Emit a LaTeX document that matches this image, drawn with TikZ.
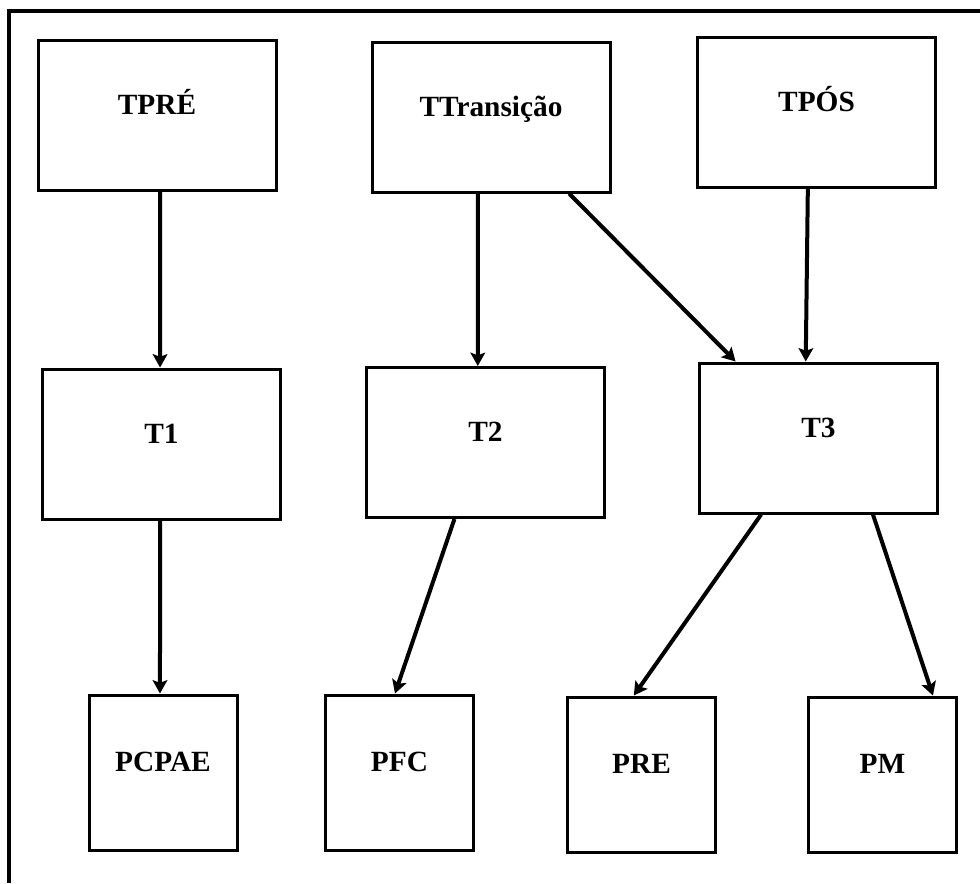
\documentclass[tikz,border=0pt]{standalone}
\usepackage{fontspec}
\setmainfont{Liberation Serif}
\usetikzlibrary{calc,arrows.meta}
\newcommand{\seta}[4]{\draw[arr] ($(#1.south west)!#2!(#1.south east)$) -- ($(#3.north west)!#4!(#3.north east)$);}

\begin{document}
\begin{tikzpicture}[x=0.75pt,y=-0.75pt,
  caixa/.style={draw,line width=2.25pt,text height=14.5pt,text depth=15.5pt,
    font=\fontsize{22}{25}\selectfont\bfseries},
  grande/.style={caixa,minimum width=178.5pt,minimum height=112.5pt},
  pequena/.style={caixa,minimum width=111pt,minimum height=116.25pt},
  arr/.style={line width=3pt,-{Stealth[length=10pt,width=11pt,inset=2pt]}}]
  \useasboundingbox (0,0) rectangle (980,883);
  \draw[line width=3.5pt] (9,883) -- (9,11) -- (980,11);

  % linha de cima
  \node[grande] (tpre) at (157,115.5) {TPRÉ};
  \node[grande] (ttr)  at (491,117)   {TTransição};
  \node[grande] (tpos) at (816.5,112.5) {TPÓS};

  % linha do meio
  \node[grande] (t1) at (161.5,444) {T1};
  \node[grande] (t2) at (485.5,442.5) {T2};
  \node[grande] (t3) at (818.5,438) {T3};

  % linha de baixo
  \node[pequena] (pcpae) at (163,772.5)   {PCPAE};
  \node[pequena] (pfc)   at (399.5,772.5) {PFC};
  \node[pequena] (pre)   at (641.5,774.5) {PRE};
  \node[pequena] (pm)    at (882.5,774.5) {PM};

  \seta{tpre}{0.513}{t1}{0.494}
  \seta{ttr}{0.445}{t2}{0.468}
  \seta{ttr}{0.824}{t3}{0.156}
  \seta{tpos}{0.464}{t3}{0.447}
  \seta{t1}{0.494}{pcpae}{0.48}
  \seta{t2}{0.371}{pfc}{0.47}
  \seta{t3}{0.262}{pre}{0.449}
  \seta{t3}{0.726}{pm}{0.834}
\end{tikzpicture}
\end{document}
